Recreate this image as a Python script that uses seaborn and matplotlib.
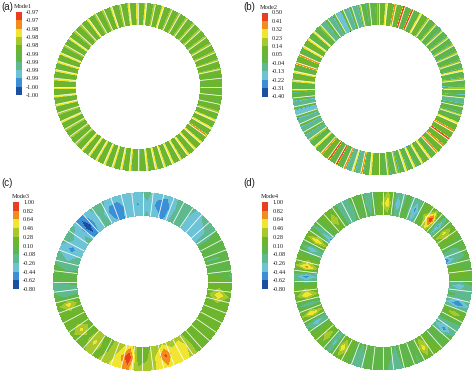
import numpy as np
import matplotlib
matplotlib.use('Agg')
import matplotlib.pyplot as plt
from matplotlib.colors import ListedColormap
import seaborn as sns

W, H = 474, 373

# colour bands, lowest to highest, same for all four panels
band_colors = ['#1c4f9f', '#3a8fd6', '#6cc3d6', '#5fb98f', '#5fb548',
               '#6db52c', '#a8c92e', '#f0e632', '#f28c1c', '#e8401e']

# colour bar labels, top to bottom
labels_a = ['-0.97', '-0.97', '-0.98', '-0.98', '-0.98', '-0.99', '-0.99', '-0.99', '-0.99', '-1.00', '-1.00']
labels_b = ['0.50', '0.41', '0.32', '0.23', '0.14', '0.05', '-0.04', '-0.13', '-0.22', '-0.31', '-0.40']
labels_c = ['1.00', '0.82', '0.64', '0.46', '0.28', '0.10', '-0.08', '-0.26', '-0.44', '-0.62', '-0.80']
labels_d = labels_c

levels_a = [-1.0, -0.997, -0.994, -0.991, -0.988, -0.985, -0.982, -0.979, -0.976, -0.973, -0.97]
levels_b = [-0.40, -0.31, -0.22, -0.13, -0.04, 0.05, 0.14, 0.23, 0.32, 0.41, 0.50]
levels_c = [-0.80, -0.62, -0.44, -0.26, -0.08, 0.10, 0.28, 0.46, 0.64, 0.82, 1.00]
levels_d = levels_c

# Mode1, 60 blades clockwise from the top
a_high = [-0.978, -0.979, -0.978, -0.980, -0.979, -0.979, -0.980, -0.979, -0.980, -0.979,
          -0.980, -0.981, -0.981, -0.982, -0.983, -0.983, -0.982, -0.980, -0.978, -0.977,
          -0.975, -0.976, -0.978, -0.977, -0.978, -0.977, -0.978, -0.977, -0.978, -0.979,
          -0.978, -0.977, -0.978, -0.977, -0.978, -0.977, -0.978, -0.979, -0.980, -0.979,
          -0.978, -0.979, -0.977, -0.978, -0.977, -0.976, -0.977, -0.978, -0.978, -0.979,
          -0.978, -0.979, -0.979, -0.978, -0.979, -0.979, -0.978, -0.979, -0.978, -0.978]
a_low = [-0.992, -0.992, -0.993, -0.992, -0.992, -0.993, -0.993, -0.992, -0.993, -0.993,
         -0.992, -0.992, -0.991, -0.991, -0.990, -0.990, -0.991, -0.992, -0.993, -0.993,
         -0.994, -0.994, -0.994, -0.995, -0.995, -0.996, -0.996, -0.996, -0.996, -0.995,
         -0.996, -0.995, -0.995, -0.995, -0.994, -0.994, -0.994, -0.993, -0.993, -0.993,
         -0.992, -0.992, -0.992, -0.992, -0.993, -0.992, -0.993, -0.993, -0.993, -0.994,
         -0.994, -0.993, -0.994, -0.994, -0.993, -0.993, -0.993, -0.993, -0.992, -0.992]
a_base = [-0.984] * 60

# Mode2, 60 blades clockwise from the top
b_base = [0.08, 0.06, 0.06, 0.05, 0.04, 0.06, 0.05, 0.02, -0.02, -0.03,
          0.03, 0.04, 0.03, 0.04, 0.02, -0.02, -0.05, -0.03, 0.05, 0.06,
          0.07, 0.06, 0.07, 0.05, 0.06, 0.03, 0.00, -0.03, 0.04, 0.05,
          0.06, 0.02, -0.06, -0.08, 0.02, 0.04, 0.06, 0.03, 0.02, -0.05,
          -0.10, -0.12, -0.14, -0.10, 0.00, 0.05, 0.06, 0.05, 0.06, 0.05,
          0.07, 0.05, 0.00, -0.05, -0.10, -0.14, -0.12, -0.08, -0.02, 0.03]
b_high = [0.30, 0.36, 0.46, 0.42, 0.26, 0.20, 0.18, 0.15, 0.18, 0.22,
          0.20, 0.18, 0.24, 0.22, 0.16, 0.12, 0.10, 0.16, 0.30, 0.40,
          0.44, 0.38, 0.34, 0.30, 0.24, 0.30, 0.28, 0.20, 0.18, 0.16,
          0.30, 0.34, 0.28, 0.38, 0.44, 0.42, 0.34, 0.26, 0.22, 0.14,
          0.10, 0.08, 0.10, 0.12, 0.16, 0.26, 0.30, 0.34, 0.36, 0.32,
          0.28, 0.24, 0.18, 0.14, 0.12, 0.10, 0.14, 0.16, 0.14, 0.20]
b_low = [0.00, 0.00, -0.02, 0.00, -0.04, -0.02, -0.08, -0.20, -0.28, -0.30,
         -0.36, -0.38, -0.38, -0.36, -0.38, -0.34, -0.34, -0.26, -0.08, -0.04,
         -0.02, 0.00, -0.06, -0.20, -0.32, -0.36, -0.38, -0.34, -0.20, -0.12,
         -0.10, -0.28, -0.34, -0.30, -0.08, -0.04, 0.00, -0.10, -0.24, -0.36,
         -0.38, -0.36, -0.38, -0.34, -0.26, -0.12, -0.06, -0.04, -0.06, -0.10,
         -0.04, -0.10, -0.24, -0.34, -0.38, -0.34, -0.36, -0.30, -0.22, -0.14]

# Mode3, 52 blades clockwise from the top: inner, middle, outer radius
c_inner = [-0.25, -0.30, -0.50, -0.22, -0.20, -0.30, -0.30, -0.35, -0.05, 0.02, -0.10, 0.05, 0.12,
           0.12, 0.20, 0.18, 0.15, 0.20, 0.20, 0.18, 0.22, 0.40, 0.40, 0.45, 0.35, 0.20,
           0.18, 0.55, 0.40, 0.28, 0.15, 0.35, 0.18, 0.18, 0.15, 0.15, 0.18, -0.10, -0.10,
           0.08, -0.15, -0.20, -0.30, -0.30, -0.20, -0.60, -0.35, -0.15, -0.40, -0.50, -0.30, -0.30]
c_mid = [-0.28, -0.50, -0.58, -0.28, -0.12, -0.45, -0.30, -0.28, -0.06, 0.05, -0.12, 0.08, 0.10,
         0.18, 0.58, 0.20, 0.15, 0.22, 0.24, 0.20, 0.26, 0.60, 0.50, 0.85, 0.48, 0.26,
         0.20, 0.98, 0.52, 0.30, 0.20, 0.50, 0.20, 0.50, 0.18, 0.18, 0.52, -0.24, -0.15,
         0.10, -0.20, -0.30, -0.52, -0.32, -0.30, -0.78, -0.40, -0.22, -0.55, -0.58, -0.32, -0.48]
c_outer = [-0.22, -0.38, -0.42, -0.25, -0.10, -0.30, -0.24, -0.18, 0.00, 0.08, -0.06, 0.00, -0.15,
           0.10, 0.22, 0.20, 0.20, 0.20, 0.22, 0.22, 0.26, 0.48, 0.50, 0.60, 0.48, 0.35,
           0.30, 0.70, 0.55, 0.42, 0.25, 0.30, 0.22, 0.22, 0.18, 0.16, 0.18, 0.00, -0.20,
           0.02, -0.05, -0.22, -0.30, -0.10, -0.25, -0.60, -0.30, -0.15, -0.30, -0.35, -0.28, -0.30]

# Mode4, 52 blades clockwise from the top: inner, middle, outer radius
d_inner = [0.20, -0.15, 0.05, -0.30, 0.05, 0.40, -0.30, 0.25, 0.12, -0.10, -0.65, 0.12, 0.15,
           -0.25, -0.05, -0.30, 0.15, -0.08, -0.30, 0.10, 0.08, 0.25, -0.05, 0.10, -0.10, 0.00,
           0.08, 0.10, -0.10, 0.10, 0.20, -0.20, 0.18, 0.10, -0.20, 0.25, -0.15, 0.25, 0.05,
           -0.30, 0.25, 0.05, -0.20, 0.30, -0.55, 0.05, 0.15, -0.10, -0.12, 0.10, -0.10, 0.12]
d_mid = [0.58, -0.50, 0.05, -0.55, 0.20, 0.95, -0.60, 0.50, 0.15, -0.15, -0.20, 0.10, 0.24,
         -0.42, -0.10, -0.70, 0.40, -0.10, -0.55, 0.10, 0.10, 0.52, -0.10, 0.10, -0.15, -0.05,
         0.10, 0.05, -0.28, 0.10, 0.58, -0.42, 0.42, 0.10, -0.46, 0.62, -0.32, 0.62, 0.10,
         -0.62, 0.68, 0.10, -0.50, 0.62, -0.30, 0.10, 0.42, -0.15, -0.20, 0.10, -0.22, 0.10]
d_outer = [0.30, -0.25, -0.05, -0.20, 0.12, 0.25, -0.15, 0.15, 0.08, 0.02, -0.05, 0.10, 0.10,
           -0.10, -0.08, -0.30, 0.20, -0.15, -0.10, 0.08, 0.12, 0.20, -0.12, 0.08, -0.20, -0.10,
           0.05, 0.00, -0.25, 0.05, 0.20, -0.15, 0.15, 0.12, -0.15, 0.25, -0.10, 0.20, 0.08,
           -0.20, 0.25, 0.12, -0.10, 0.20, -0.12, 0.12, 0.18, -0.12, -0.15, 0.12, -0.18, 0.08]


def make_axes(fig, left, top, width, height, **kw):
    # pixel box from the top left corner to a figure rectangle
    return fig.add_axes([left / W, 1 - (top + height) / H, width / W, height / H], **kw)


def draw_ring(cx, cy, r_out, r_in, theta, radii, z, levels, n_blades):
    ax = make_axes(fig, cx - r_out - 1, cy - r_out - 1, 2 * r_out + 2, 2 * r_out + 2)
    rr = r_in + np.array(radii) * (r_out - r_in)
    tt, rg = np.meshgrid(theta, rr)
    # clockwise from the top, no antialiasing or the white page shows between thin bands
    ax.contourf(rg * np.sin(tt), rg * np.cos(tt), z, levels=levels, colors=band_colors,
                antialiased=False)
    # white gaps between the blades
    for k in range(n_blades):
        t = k * 2 * np.pi / n_blades
        ax.plot([(r_in - 0.5) * np.sin(t), (r_out + 0.5) * np.sin(t)],
                [(r_in - 0.5) * np.cos(t), (r_out + 0.5) * np.cos(t)], color='white', lw=0.55,
                solid_capstyle='butt')
    ax.set_xlim(-r_out - 1, r_out + 1)
    ax.set_ylim(-r_out - 1, r_out + 1)
    ax.set_axis_off()
    return ax


def streak_ring(cx, cy, r_out, r_in, base, low, high, levels):
    n = len(base)
    cols = []
    for b, l, h in zip(base, low, high):
        cols += [b, b, l, b, h, b]
    cols.append(cols[0])
    cell_pos = [0.05, 0.5, 0.64, 0.76, 0.88, 0.97]
    theta = [(k + p) * 2 * np.pi / n for k in range(n) for p in cell_pos]
    theta.append(theta[0] + 2 * np.pi)
    z = np.array([cols, cols])
    return draw_ring(cx, cy, r_out, r_in, theta, [0, 1], z, levels, n)


def blob_ring(cx, cy, r_out, r_in, inner, mid, outer, levels):
    n = len(mid)
    z = np.array([inner + inner[:1], mid + mid[:1], outer + outer[:1]])
    theta = [(k + 0.5) * 2 * np.pi / n for k in range(n + 1)]
    return draw_ring(cx, cy, r_out, r_in, theta, [0, 0.5, 1], z, levels, n)


def color_bar(left, top, width, height, labels, title):
    cax = make_axes(fig, left, top, width, height)
    bands = np.arange(len(band_colors))[::-1].reshape(-1, 1)
    sns.heatmap(bands, ax=cax, cmap=ListedColormap(band_colors), cbar=False,
                xticklabels=False, vmin=-0.5, vmax=9.5)
    cax.set_yticks(np.arange(len(labels)))
    cax.set_yticklabels(labels, rotation=0, fontsize=4.6, family='Liberation Serif', color='#222222')
    cax.yaxis.tick_right()
    cax.tick_params(axis='y', length=0, pad=3)
    fig.text((left + width / 2 + 4.5) / W, 1 - (top - 5) / H, title, fontsize=4.6,
             family='Liberation Serif', color='#222222', ha='center', va='center')


# seaborn's style puts white edges on filled shapes, the contour bands must not have them
sns.set_theme(style='white', rc={'patch.force_edgecolor': False, 'patch.edgecolor': 'none'})
fig = plt.figure(figsize=(W / 100, H / 100), dpi=100)
fig.patch.set_facecolor('white')

streak_ring(138, 87, 84, 62.5, a_base, a_low, a_high, levels_a)
streak_ring(378.5, 89, 86, 64.5, b_base, b_low, b_high, levels_b)
blob_ring(142.5, 281.5, 89, 66, c_inner, c_mid, c_outer, levels_c)
blob_ring(383, 281, 89, 66.5, d_inner, d_mid, d_outer, levels_d)

color_bar(16, 12, 5.5, 83, labels_a, 'Mode1')
color_bar(261.5, 12.5, 6.5, 84, labels_b, 'Mode2')
color_bar(12.7, 202, 6.3, 87, labels_c, 'Mode3')
color_bar(262, 202, 6.2, 87, labels_d, 'Mode4')

for name, x, y in [('(a)', 1.5, 7), ('(b)', 243, 7), ('(c)', 1.5, 183), ('(d)', 243, 183)]:
    fig.text(x / W, 1 - y / H, name, fontsize=7, family='Liberation Sans', color='#222222', va='center')

fig.savefig('out.png', dpi=100)
